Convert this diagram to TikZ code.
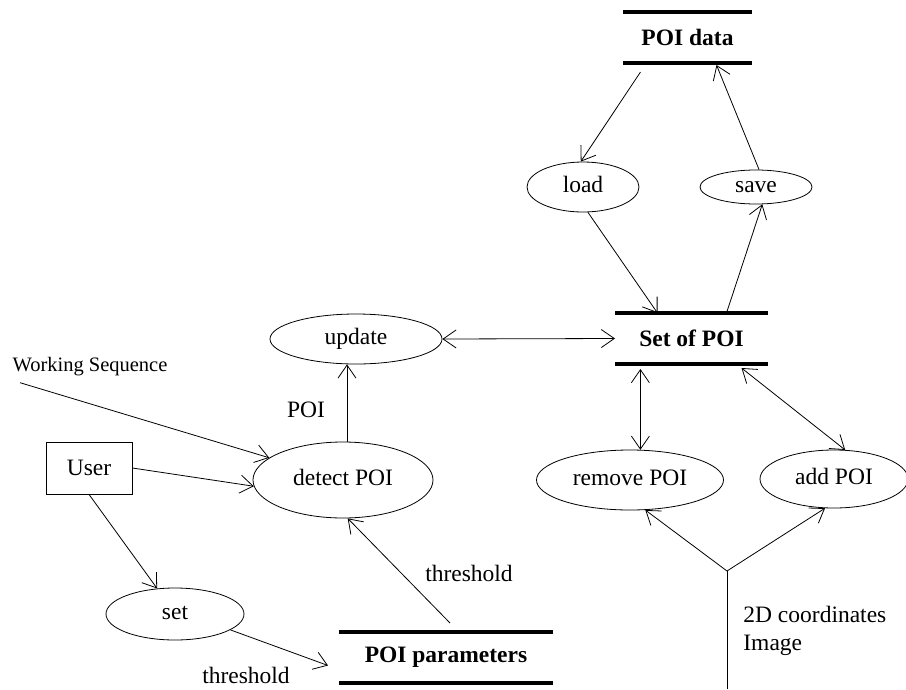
\documentclass[tikz,border=0pt]{standalone}
\usepackage{fontspec}
\setmainfont{Liberation Serif}
\usetikzlibrary{arrows.meta,shapes.geometric}

\begin{document}
\begin{tikzpicture}[x=1pt,y=-1pt,line width=0.8pt,
	font=\fontsize{23.5}{28}\selectfont,
	>={Straight Barb[length=13pt,width=18pt]},
	proc/.style={ellipse,draw,inner sep=0pt,text height=16pt,text depth=5pt},
	store/.style={inner sep=0pt,outer sep=0pt,minimum height=51pt,font=\fontsize{23.5}{28}\selectfont\bfseries},
	bar/.style={line width=3.5pt}]
	\useasboundingbox (0,0) rectangle (906,689);
	
	% Data stores
	\node[store,minimum width=129pt] (poidata) at (687.5,37.5) {POI data};
	\node[store,minimum width=153pt] (setpoi) at (691.5,338.5) {Set of POI};
	\node[store,minimum width=214pt] (poiparam) at (446,657.5) {POI parameters};
	\foreach \n in {poidata,setpoi,poiparam}
	\draw[bar] (\n.north west) -- (\n.north east) (\n.south west) -- (\n.south east);
	
	% Processes
	\node[proc,minimum width=112pt,minimum height=50pt] (load) at (583,187) {load};
	\node[proc,minimum width=112pt,minimum height=34pt] (save) at (756,187) {save};
	\node[proc,minimum width=172pt,minimum height=50pt] (update) at (356,339) {update};
	\node[proc,minimum width=180pt,minimum height=76pt] (detect) at (343,480) {detect POI};
	\node[proc,minimum width=138pt,minimum height=52pt] (set) at (175,614) {set};
	\node[proc,minimum width=187pt,minimum height=60pt] (remove) at (630,480) {remove POI};
	\node[proc,minimum width=148pt,minimum height=58pt] (add) at (834,479) {add POI};
	
	% External entities
	\node[draw,inner sep=0pt,minimum width=86pt,minimum height=52pt] (user) at (89,468) {User};
	\node[inner sep=0pt,font=\fontsize{20.5}{24}\selectfont] (wseq) at (90,367) {Working Sequence};
	
	% Labels
	\node (lblpoi) at (306,410) {POI};
	\node (lblthr) at (469,573) {threshold};
	\node (lblset) at (246,675) {threshold};
	\node[inner sep=0pt,align=left,anchor=west] (lblimg) at (743,631) {2D coordinates\\Image};
	
	% Flows
	\draw[->] ([xshift=-47pt,yshift=-9pt]poidata.south) -- (load.95);
	\draw[->] (load.-79) -- ([xshift=-34pt]setpoi.north);
	\draw[->] ([xshift=35pt]setpoi.north) -- (save.-70);
	\draw[->] (save.80) -- ([xshift=29pt,yshift=-2pt]poidata.south);
	\draw[<->] (update.east) -- (setpoi.west);
	\draw[<->] (remove.71) -- ([yshift=-5pt]remove.71 |- setpoi.south);
	\draw[<->] ([xshift=50pt,yshift=-4pt]setpoi.south) -- (add.69);
	\draw[->] ([xshift=4pt]detect.north) -- ([xshift=4pt]detect.north |- update.south);
	\draw[->] ([xshift=8pt,yshift=-6pt]wseq.south west) -- (detect);
	\draw[->] (user.east) -- (detect.184);
	\draw[->] (user.south) -- (set.125);
	\draw[->] (set.-16) -- ([xshift=-11pt,yshift=-8pt]poiparam.west);
	\draw[->] ([xshift=4pt,yshift=9pt]poiparam.north) -- (detect.-83);
	
	% Input fork
	\coordinate (fork) at (727,571);
	\coordinate (forkend) at (727,689);
	\draw (forkend) -- (fork);
	\draw[->] (fork) -- (remove.-63);
	\draw[->] (fork) -- (add.-107);
\end{tikzpicture}
\end{document}
